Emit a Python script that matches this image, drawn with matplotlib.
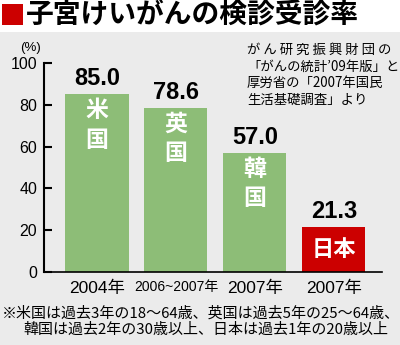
import matplotlib
matplotlib.use('Agg')
import matplotlib.pyplot as plt
import matplotlib.patches as patches

plt.rcParams['font.family'] = ['Liberation Sans', 'Noto Sans CJK JP']

# Cervical cancer screening rates by country
countries = ['米\n国', '英\n国', '韓\n国', '日本']
years = ['2004年', '2006~2007年', '2007年', '2007年']
rates = [85.0, 78.6, 57.0, 21.3]
yticks = [0, 20, 40, 60, 80, 100]

green = '#8dbd77'
red = '#cc0000'
gray = '#ebebeb'

fig = plt.figure(figsize=(4.0, 3.45), dpi=100)
fig.patch.set_facecolor('white')

# gray panel behind everything below the title
fig.patches.append(patches.Rectangle((0, 0), 1, 0.907, transform=fig.transFigure,
                                     facecolor=gray, edgecolor='none', zorder=-5))

# title with red square marker
fig.patches.append(patches.Rectangle((2 / 400, 1 - 25 / 345), 21 / 400, 21 / 345,
                                     transform=fig.transFigure, facecolor=red,
                                     edgecolor='none', zorder=-4))
fig.text(26 / 400, 1 - 15 / 345, '子宮けいがんの検診受診率', fontsize=20,
         fontweight='bold', family=['Noto Sans CJK JP'], va='center', ha='left')

ax = fig.add_axes([0.11, 0.2116, 0.845, 0.606])
ax.set_facecolor('none')

xs = list(range(len(rates)))
colors = [green, green, green, red]
ax.bar(xs, rates, width=0.8, color=colors, zorder=2)

ax.set_xlim(-0.67, 3.61)
ax.set_ylim(0, 100)
ax.set_yticks(yticks)
ax.set_xticks(xs)
ax.set_xticklabels(years)
for lab in ax.get_xticklabels():
    lab.set_fontsize(10 if '~' in lab.get_text() else 12.5)

ax.tick_params(axis='y', direction='in', length=5.5, width=1.5, labelsize=11.5, pad=5)
ax.tick_params(axis='x', length=0, pad=6)
for s in ['top', 'right']:
    ax.spines[s].set_visible(False)
ax.spines['left'].set_linewidth(1.5)
ax.spines['bottom'].set_linewidth(1.2)

for x, v, name in zip(xs, rates, countries):
    ax.annotate('%.1f' % v, (x, v), xytext=(0, 3), textcoords='offset points',
                ha='center', va='bottom', fontsize=17, fontweight='bold')
    if '\n' in name:
        # stacked country name near the top of the bar
        for i, ch in enumerate(name.split('\n')):
            ax.annotate(ch, (x, v), xytext=(0, -12 - 21 * i), textcoords='offset points',
                        ha='center', va='center', fontsize=16.5, fontweight='bold',
                        color='white', family=['Noto Sans CJK JP'])
    else:
        ax.text(x, v / 2, name, ha='center', va='center', fontsize=16,
                fontweight='bold', color='white', family=['Noto Sans CJK JP'])

fig.text(20 / 400, 1 - 48 / 345, '(%)', fontsize=9.5, va='center', ha='left')

# source note
source = ['が ん 研 究 振 興 財 団 の',
          '「がんの統計’09年版」と',
          '厚労省の「2007年国民',
          '生活基礎調査」より']
for i, line in enumerate(source):
    fig.text(247 / 400, 1 - (50 + 16.5 * i) / 345, line, fontsize=9.6,
             va='center', ha='left', family=['Noto Sans CJK JP'])

# footnote
fig.text(2 / 400, 1 - 313 / 345, '※米国は過去3年の18〜64歳、英国は過去5年の25〜64歳、',
         fontsize=10.8, va='center', ha='left', family=['Noto Sans CJK JP'])
fig.text(23 / 400, 1 - 330 / 345, '韓国は過去2年の30歳以上、日本は過去1年の20歳以上',
         fontsize=10.8, va='center', ha='left', family=['Noto Sans CJK JP'])

fig.savefig('out.png', dpi=100)
